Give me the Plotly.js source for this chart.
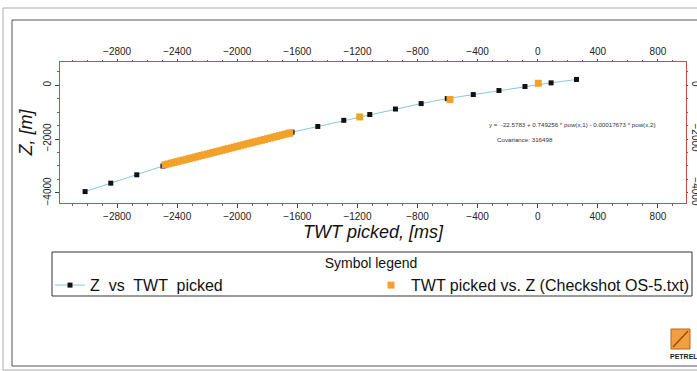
<!DOCTYPE html>
<html>
<head>
<meta charset="utf-8">
<script src="https://cdn.plot.ly/plotly-3.0.1.min.js"></script>
<style>html,body{margin:0;padding:0;background:#fff;}#chart{width:697px;height:371px;}</style>
</head>
<body>
<div id="chart"></div>
<script>
// Z vs TWT picked (fitted function samples)
const fitTWT = [-3013, -2842, -2669, -2495, -1635, -1464, -1291, -1118, -947, -776, -602, -429, -258, -85, 89, 258];
const fitZ   = [-3951, -3638, -3327, -3002, -1745, -1533, -1305, -1090, -886, -684, -497, -349, -199, -50, 86, 212];

// Checkshot OS-5 (TWT picked vs. Z)
const csTWT = [-2480,-2460,-2440,-2420,-2400,-2380,-2360,-2340,-2320,-2300,-2280,-2260,-2240,-2220,-2200,-2180,-2160,-2140,-2120,-2100,-2080,-2060,-2040,-2020,-2000,-1980,-1960,-1940,-1920,-1900,-1880,-1860,-1840,-1820,-1800,-1780,-1760,-1740,-1720,-1700,-1680,-1660,-1650,-1185,-584,4];
const csZ   = [-2953,-2925,-2896,-2868,-2840,-2810,-2783,-2755,-2725,-2698,-2670,-2640,-2612,-2585,-2556,-2528,-2498,-2470,-2443,-2414,-2384,-2357,-2328,-2300,-2272,-2243,-2215,-2186,-2158,-2130,-2101,-2073,-2045,-2016,-1988,-1960,-1931,-1903,-1875,-1846,-1818,-1790,-1776,-1180,-530,70];

const xTickVals = [-2800,-2400,-2000,-1600,-1200,-800,-400,0,400,800];
const yTickVals = [0,-2000,-4000];

const W = 697, H = 371;
const px = v => v / W, py = v => 1 - v / H;
const FONT = 'Liberation Sans, Arial, sans-serif';
const xRange = [-3180, 987], yRange = [-4374, 860];
const axisLine = '#c0504d';

const traces = [
  {x: fitTWT, y: fitZ, type: 'scatter', mode: 'lines+markers', name: 'Z  vs  TWT  picked',
   line: {color: '#86c8d6', width: 1}, marker: {symbol: 'square', size: 5, color: '#111'}},
  {x: csTWT, y: csZ, type: 'scatter', mode: 'markers', name: 'TWT picked vs. Z (Checkshot OS-5.txt)',
   marker: {symbol: 'square', size: 7, color: '#f2a22a'}},
  {x: [null], y: [null], xaxis: 'x2', yaxis: 'y2', showlegend: false, type: 'scatter'}
];

const commonX = {range: xRange, tickvals: xTickVals, ticks: 'outside', ticklen: 4, tickcolor: '#444',
  showline: true, linecolor: axisLine, linewidth: 1, showgrid: false, zeroline: false,
  tickfont: {family: FONT, size: 10, color: '#222'},
  minor: {dtick: 100, tick0: 0, ticks: 'outside', ticklen: 2, tickcolor: '#666', showgrid: false}};
const commonY = {range: yRange, tickvals: yTickVals, ticks: 'outside', ticklen: 4, tickcolor: '#444',
  showline: true, linecolor: axisLine, linewidth: 1, showgrid: false, zeroline: false,
  tickfont: {family: FONT, size: 10, color: '#222'},
  minor: {dtick: 500, tick0: 0, ticks: 'outside', ticklen: 2, tickcolor: '#666', showgrid: false}};

const layout = {
  width: W, height: H, margin: {l: 0, r: 0, t: 0, b: 0},
  paper_bgcolor: '#fff', plot_bgcolor: '#fff',
  font: {family: FONT},
  xaxis: Object.assign({}, commonX, {domain: [px(60), px(686)], anchor: 'y', side: 'bottom',
    title: {text: 'TWT picked, [ms]', font: {family: FONT, size: 18, color: '#111', style: 'italic'}, standoff: 3}}),
  xaxis2: Object.assign({}, commonX, {domain: [px(60), px(686)], anchor: 'y', overlaying: 'x', side: 'top', ticklen: 2,
    minor: {dtick: 100, tick0: 0, ticks: 'outside', ticklen: 1.5, tickcolor: '#666', showgrid: false}}),
  yaxis: Object.assign({}, commonY, {domain: [py(203), py(62)], anchor: 'x', side: 'left', tickangle: -90,
    title: {text: 'Z, [m]', font: {family: FONT, size: 18, color: '#111', style: 'italic'}, standoff: 4}}),
  yaxis2: Object.assign({}, commonY, {domain: [py(203), py(62)], anchor: 'x', overlaying: 'y', side: 'right', tickangle: 90, ticklen: 1,
    minor: {dtick: 500, tick0: 0, ticks: 'outside', ticklen: 1, tickcolor: '#666', showgrid: false}}),
  showlegend: true,
  legend: {orientation: 'h', x: px(50), y: py(250), xanchor: 'left', yanchor: 'top',
    bgcolor: 'rgba(0,0,0,0)', borderwidth: 0, entrywidth: 276, entrywidthmode: 'pixels',
    tracegroupgap: 0, itemwidth: 30,
    font: {family: FONT, size: 16, color: '#111'},
    title: {text: 'Symbol legend', side: 'top center', font: {family: FONT, size: 14, color: '#111'}}},
  shapes: [
    {type: 'rect', xref: 'paper', yref: 'paper', x0: px(3), x1: px(720), y0: py(370), y1: py(8), line: {color: '#aaa', width: 1}},
    {type: 'rect', xref: 'paper', yref: 'paper', x0: px(12), x1: px(720), y0: py(366), y1: py(20), line: {color: '#555', width: 1}},
    {type: 'rect', xref: 'paper', yref: 'paper', x0: px(52), x1: px(692), y0: py(296), y1: py(252), line: {color: '#333', width: 1}},
    {type: 'rect', xref: 'paper', yref: 'paper', x0: px(671), x1: px(690), y0: py(349), y1: py(329), line: {color: '#b8641a', width: 1}, fillcolor: '#f0a040'},
    {type: 'line', xref: 'paper', yref: 'paper', x0: px(673), x1: px(688), y0: py(347), y1: py(331), line: {color: '#9a4a10', width: 1.5}}
  ],
  annotations: [
    {xref: 'paper', yref: 'paper', x: px(487), y: py(124), xanchor: 'left', yanchor: 'middle', showarrow: false,
     text: 'y =  -22.5783 + 0.749256 * pow(x,1) - 0.00017673 * pow(x,2)', font: {family: FONT, size: 6.2, color: '#333'}},
    {xref: 'paper', yref: 'paper', x: px(495), y: py(139), xanchor: 'left', yanchor: 'middle', showarrow: false,
     text: 'Covariance: 316498', font: {family: FONT, size: 6.2, color: '#333'}},
    {xref: 'paper', yref: 'paper', x: px(668), y: py(356), xanchor: 'left', yanchor: 'middle', showarrow: false,
     text: '<b>PETREL</b>', font: {family: FONT, size: 7, color: '#222'}}
  ]
};

Plotly.newPlot('chart', traces, layout, {staticPlot: true, displayModeBar: false});
</script>
</body>
</html>
